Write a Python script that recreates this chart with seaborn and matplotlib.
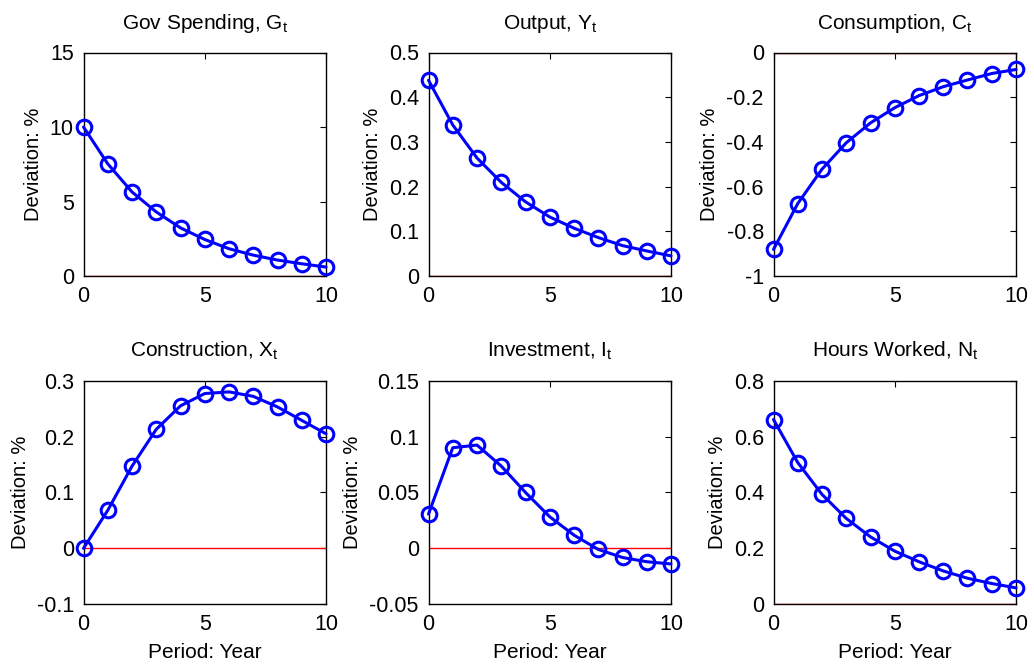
import numpy as np
import matplotlib
matplotlib.use("Agg")
import matplotlib.pyplot as plt
import seaborn as sns

# Impulse responses to a government spending shock (deviation from steady state, %)
periods = list(range(11))
gov_spending = [10.0, 7.53, 5.64, 4.30, 3.23, 2.45, 1.83, 1.40, 1.07, 0.82, 0.60]
output = [0.438, 0.338, 0.264, 0.2095, 0.166, 0.132, 0.107, 0.086, 0.068, 0.056, 0.045]
consumption = [-0.881, -0.676, -0.522, -0.404, -0.315, -0.247, -0.193, -0.153, -0.123, -0.094, -0.076]
construction = [0.0, 0.068, 0.147, 0.213, 0.255, 0.277, 0.280, 0.272, 0.253, 0.229, 0.205]
investment = [0.0306, 0.090, 0.0924, 0.0736, 0.050, 0.0282, 0.0118, -0.001, -0.0082, -0.012, -0.014]
hours = [0.661, 0.507, 0.393, 0.307, 0.241, 0.190, 0.152, 0.119, 0.093, 0.074, 0.0585]

titles = [
    r"Gov Spending, $\mathregular{G_t}$",
    r"Output, $\mathregular{Y_t}$",
    r"Consumption, $\mathregular{C_t}$",
    r"Construction, $\mathregular{X_t}$",
    r"Investment, $\mathregular{I_t}$",
    r"Hours Worked, $\mathregular{N_t}$",
]
series = [gov_spending, output, consumption, construction, investment, hours]
ylims = [(0, 15), (0, 0.5), (-1, 0), (-0.1, 0.3), (-0.05, 0.15), (0, 0.8)]
yticks = [
    [0, 5, 10, 15],
    [0, 0.1, 0.2, 0.3, 0.4, 0.5],
    [-1, -0.8, -0.6, -0.4, -0.2, 0],
    [-0.1, 0, 0.1, 0.2, 0.3],
    [-0.05, 0, 0.05, 0.1, 0.15],
    [0, 0.2, 0.4, 0.6, 0.8],
]
yticklabels = [
    ["0", "5", "10", "15"],
    ["0", "0.1", "0.2", "0.3", "0.4", "0.5"],
    ["-1", "-0.8", "-0.6", "-0.4", "-0.2", "0"],
    ["-0.1", "0", "0.1", "0.2", "0.3"],
    ["-0.05", "0", "0.05", "0.1", "0.15"],
    ["0", "0.2", "0.4", "0.6", "0.8"],
]

sns.set_style("white")
plt.rcParams["font.family"] = ["Liberation Sans", "DejaVu Sans"]
plt.rcParams["mathtext.fontset"] = "custom"
plt.rcParams["mathtext.rm"] = "Liberation Sans"
plt.rcParams["mathtext.it"] = "Liberation Sans:italic"
plt.rcParams["axes.unicode_minus"] = False
plt.rcParams["text.color"] = "black"
plt.rcParams["axes.labelcolor"] = "black"
plt.rcParams["axes.titlecolor"] = "black"

fig = plt.figure(figsize=(10.34, 6.64), dpi=100)

W, H = 1034, 664
col_left = [83.5, 428.5, 773.5]
ax_w = 242.5
row_top = [52.5, 380.7]
ax_h = 223.5

for i, (vals, title) in enumerate(zip(series, titles)):
    r, c = divmod(i, 3)
    ax = fig.add_axes([col_left[c] / W, 1 - (row_top[r] + ax_h) / H, ax_w / W, ax_h / H])
    ax.axhline(0, color="red", lw=1.0, zorder=1)
    sns.lineplot(x=periods, y=vals, ax=ax, color="blue", lw=2.2,
                 marker="o", markersize=10.5, markerfacecolor="none",
                 markeredgecolor="blue", markeredgewidth=2.2, zorder=3,
                 clip_on=False)
    ax.set_xlim(0, 10)
    ax.set_ylim(*ylims[i])
    ax.set_xticks([0, 5, 10])
    ax.set_xticklabels(["0", "5", "10"])
    ax.set_yticks(yticks[i])
    ax.set_yticklabels(yticklabels[i])
    ax.tick_params(direction="in", length=4, width=0.8, top=True, right=True,
                   labelsize=15.5, pad=7, colors="black")
    for sp in ax.spines.values():
        sp.set_color("black")
        sp.set_linewidth(1.0)
    ax.set_title(title, fontsize=15, pad=17)
    ax.set_ylabel("Deviation: %", fontsize=14.5, labelpad=5)
    if r == 1:
        ax.set_xlabel("Period: Year", fontsize=15, labelpad=6)
    else:
        ax.set_xlabel("")

fig.savefig("out.png", dpi=100)
